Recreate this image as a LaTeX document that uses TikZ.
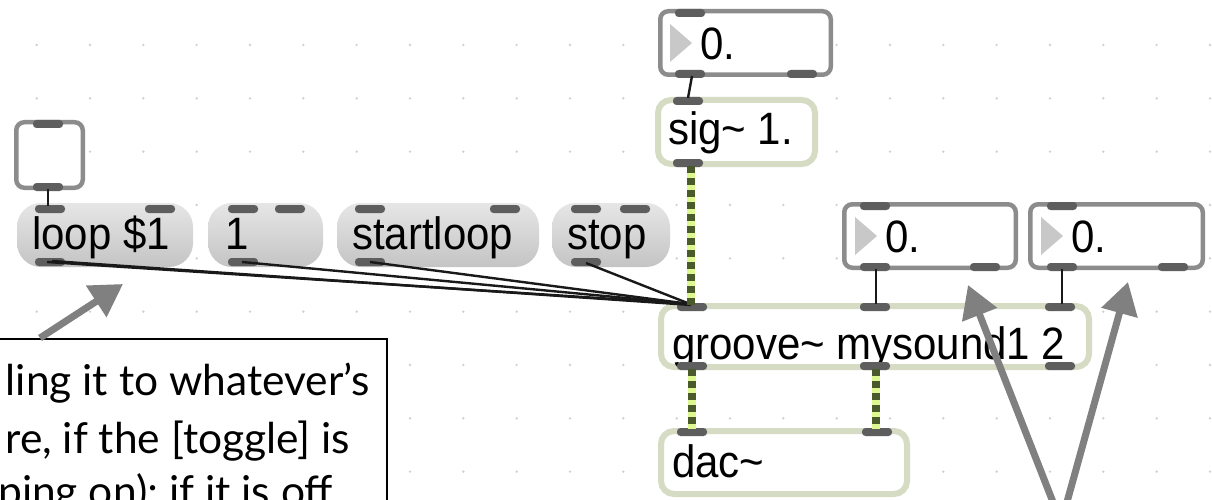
\documentclass[tikz,border=0pt]{standalone}
\usepackage{fontspec}
\setmainfont{Liberation Sans}
\newfontfamily\capfont{Lato}
\usetikzlibrary{arrows.meta}
\definecolor{portc}{HTML}{5E5E5E}
\definecolor{numc}{HTML}{8C8C8C}
\definecolor{objc}{HTML}{D5DCC3}
\definecolor{tric}{HTML}{C8C8C8}
\definecolor{dotc}{HTML}{CFCFCF}
\definecolor{siglight}{HTML}{DDF791}
\definecolor{sigdark}{HTML}{4A5A2A}
\definecolor{notec}{HTML}{808080}
\definecolor{msgtop}{HTML}{E6E6E6}
\definecolor{msgbot}{HTML}{C4C4C4}
\newcommand{\mxt}[1]{\scalebox{1}[1.08]{#1}}
\begin{document}
\begin{tikzpicture}[x=1pt,y=-1pt,
  msg/.style={shape=rectangle, rounded corners=24pt, top color=msgtop, bottom color=msgbot, draw=none, inner sep=0pt, outer sep=0pt},
  numbox/.style={shape=rectangle, draw=numc, line width=4.5pt, rounded corners=8pt, fill=white, inner sep=0pt, outer sep=0pt},
  objbox/.style={shape=rectangle, draw=objc, line width=6pt, rounded corners=13pt, fill=white, inner sep=0pt, outer sep=0pt},
  port/.style={fill=portc, rounded corners=3.5pt},
  txt/.style={anchor=base west, inner sep=0pt, outer sep=0pt, font=\fontsize{42}{50}\selectfont},
  captxt/.style={anchor=base east, inner sep=0pt, outer sep=0pt, font=\capfont\fontsize{42.5}{50}\selectfont},
  cord/.style={line width=2.4pt, draw=black!90},
  sigbg/.style={line width=8pt, draw=siglight},
  sigfg/.style={line width=8pt, draw=sigdark, dash pattern=on 7pt off 5pt},
  note/.style={line width=7pt, draw=notec, -{Triangle[length=32pt,width=36pt]}}
]
\useasboundingbox (0,0) rectangle (1212,500);
\clip (0,0) rectangle (1212,500);
\fill[white] (0,0) rectangle (1212,500);
% grid dots
\foreach \i in {0,...,22} {
  \foreach \j in {0,...,8} {
    \fill[dotc] ({36.7+53.33*\i},{45+53.33*\j}) circle (1.3pt);
  }
}
% ---------- boxes ----------
\node[numbox, minimum width=66.5pt, minimum height=65.5pt] (tog) at (49.5,155) {};
\node[msg, minimum width=176pt, minimum height=64pt] (loop) at (105,235) {};
\node[msg, minimum width=115pt, minimum height=64pt] (one) at (265.5,235) {};
\node[msg, minimum width=202pt, minimum height=64pt] (start) at (438,235) {};
\node[msg, minimum width=118pt, minimum height=64pt] (stop) at (611,235) {};
\node[numbox, minimum width=170.5pt, minimum height=63.5pt] (num1) at (745.5,43) {};
\node[objbox, minimum width=157pt, minimum height=64pt] (sig) at (736.5,132) {};
\node[numbox, minimum width=171.5pt, minimum height=63.5pt] (num2) at (930,236) {};
\node[numbox, minimum width=172.5pt, minimum height=63.5pt] (num3) at (1116.5,236) {};
\node[objbox, minimum width=428pt, minimum height=61pt] (groove) at (875,336.5) {};
\node[objbox, minimum width=246pt, minimum height=63pt] (dac) at (784,462.5) {};
% triangles of number boxes
\fill[tric] (670,24) -- (692,43) -- (670,62) -- cycle;
\fill[tric] (855,217) -- (877,236) -- (855,255) -- cycle;
\fill[tric] (1041,217) -- (1063,236) -- (1041,255) -- cycle;
% texts
\node[txt] (loopT) at (32,249) {\mxt{loop \$1}};
\node[txt] (oneT) at (225,249) {\mxt{1}};
\node[txt] (startT) at (352,249) {\mxt{startloop}};
\node[txt] (stopT) at (567,249) {\mxt{stop}};
\node[txt] (num1T) at (700,60) {\mxt{0.}};
\node[txt] (sigT) at (668,145) {\mxt{sig\textasciitilde\ 1.}};
\node[txt] (num2T) at (885,252) {\mxt{0.}};
\node[txt] (num3T) at (1071,252) {\mxt{0.}};
\node[txt] (grooveT) at (672,359) {\mxt{groove\textasciitilde\ mysound1 2}};
\node[txt] (dacT) at (672,477) {\mxt{dac\textasciitilde}};
% ---------- ports ----------
\foreach \x/\y in {33/120, 33/183,
  35/205, 145/205, 35/258,
  228/205, 275/205, 228/258,
  355/205, 490/205, 355/258,
  571/205, 620/205, 571/258,
  675/9, 675/70, 787/70,
  673/97, 673/159,
  860/202, 860/263, 970/263,
  1047/202, 1047/263, 1158/263,
  677/303, 860/303, 1045/303, 677/362, 860/362, 1045/362,
  677/428, 862/428} {
  \fill[port] (\x,\y) rectangle ({\x+30},{\y+8});
}
% port coordinates
\coordinate (togOut) at (48,189);
\coordinate (loopIn) at (48,206);
\coordinate (loopOut) at (47,262);
\coordinate (oneOut) at (242,262);
\coordinate (startOut) at (370,262);
\coordinate (stopOut) at (586,263);
\coordinate (num1Out) at (692,76);
\coordinate (sigIn) at (688,98);
\coordinate (sigOut) at (691,166);
\coordinate (grooveIn1) at (690,304);
\coordinate (grooveIn1s) at (691,305);
\coordinate (num2Out) at (876,269);
\coordinate (grooveIn2) at (876,304);
\coordinate (num3Out) at (1062,269);
\coordinate (grooveIn3) at (1062,304);
\coordinate (grooveOut1) at (692,369);
\coordinate (grooveOut2) at (876,369);
\coordinate (dacIn1) at (692,429);
\coordinate (dacIn2) at (876,429);
% ---------- connections ----------
\draw[cord] (togOut) -- (loopIn);
\draw[cord] (num1Out) -- (sigIn);
\draw[cord] (num2Out) -- (grooveIn2);
\draw[cord] (num3Out) -- (grooveIn3);
\draw[cord] (loopOut) -- (grooveIn1);
\draw[cord] ([xshift=5pt,yshift=1pt]loopOut) -- (grooveIn1s);
\draw[cord] (oneOut) -- (grooveIn1);
\draw[cord] (startOut) -- (grooveIn1);
\draw[cord] (stopOut) -- (grooveIn1);
\draw[sigbg] (sigOut) -- (grooveIn1s);
\draw[sigfg] (sigOut) -- (grooveIn1s);
\draw[sigbg] (grooveOut1) -- (dacIn1);
\draw[sigfg] (grooveOut1) -- (dacIn1);
\draw[sigbg] (grooveOut2) -- (dacIn2);
\draw[sigfg] (grooveOut2) -- (dacIn2);
% ---------- caption ----------
\node[shape=rectangle, draw=black, line width=2pt, fill=white, minimum width=406pt, minimum height=220pt, inner sep=0pt, outer sep=0pt] (cap) at (184,449) {};
\node[captxt] (cap1) at (370,395) {ling it to whatever’s};
\node[captxt] (cap2) at (350,453) {re, if the [toggle] is};
\node[captxt] (cap3) at (333,506) {ping on); if it is off};
% ---------- annotation arrows ----------
\coordinate (capTop) at (40,338);
\coordinate (tipA) at (123,284);
\coordinate (srcB) at (1060,520);
\coordinate (tipB) at (968,285);
\coordinate (srcC) at (1062,520);
\coordinate (tipC) at (1128,282);
\draw[note] (capTop) -- (tipA);
\draw[note] (srcB) -- (tipB);
\draw[note] (srcC) -- (tipC);
\end{tikzpicture}
\end{document}
